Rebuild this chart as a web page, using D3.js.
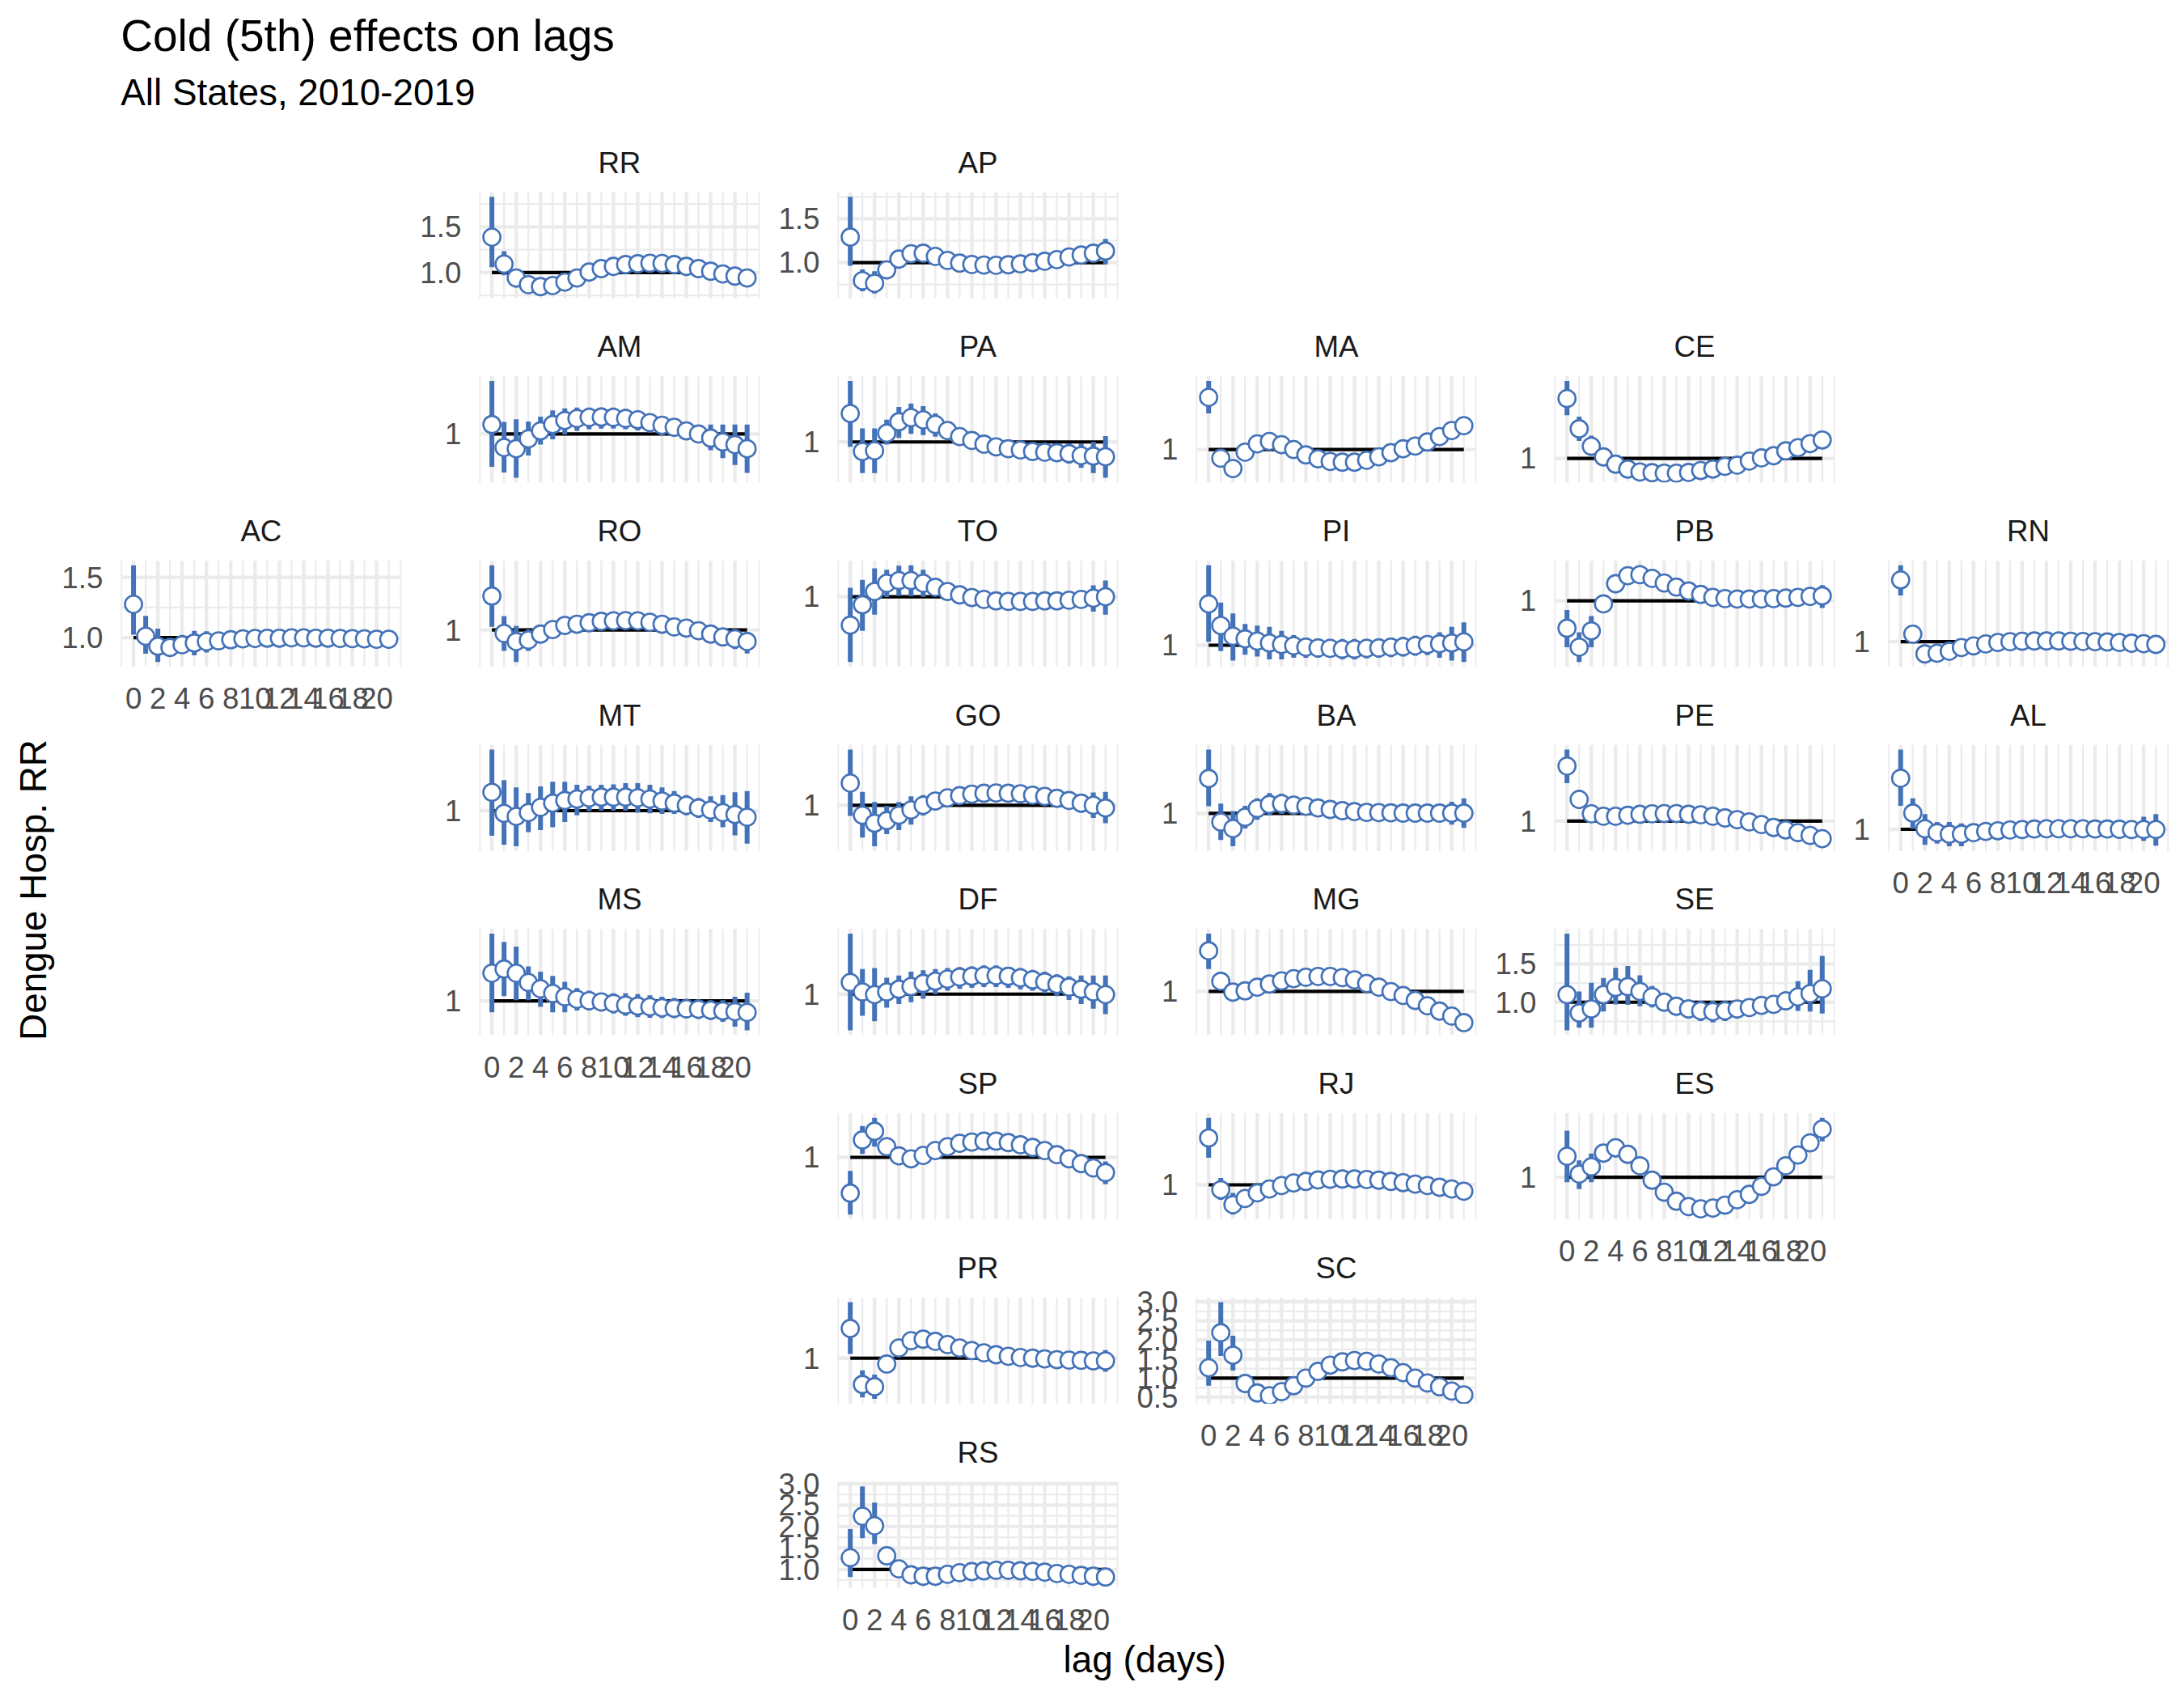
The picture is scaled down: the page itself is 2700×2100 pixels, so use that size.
<!DOCTYPE html>
<html><head><meta charset="utf-8">
<script src="https://cdn.jsdelivr.net/npm/d3@7"></script>
<style>body{margin:0;background:#fff} text{font-family:"Liberation Sans",Arial,Helvetica,sans-serif}</style>
</head><body>
<svg id="chart" width="2700" height="2100"></svg>
<script>
// ---------------- DATA ----------------
const titleText = "Cold (5th) effects on lags";
const subtitleText = "All States, 2010-2019";
const xTitle = "lag (days)";
const yTitle = "Dengue Hosp. RR";

const lags = [0,1,2,3,4,5,6,7,8,9,10,11,12,13,14,15,16,17,18,19,20,21];
const xTicks = [0,2,4,6,8,10,12,14,16,18,20];

// geofacet grid (Brazil states)
const states  = ["RR","AP","AM","PA","MA","CE","AC","RO","TO","PI","PB","RN","MT","GO","BA","PE","AL","MS","DF","MG","SE","SP","RJ","ES","PR","SC","RS"];
const gridRow = [0,0,1,1,1,1,2,2,2,2,2,2,3,3,3,3,3,4,4,4,4,5,5,5,6,6,7];
const gridCol = [1,2,1,2,3,4,0,1,2,3,4,5,1,2,3,4,5,1,2,3,4,2,3,4,2,3,2];

const RR_est = [1.388,1.094,0.941,0.868,0.847,0.859,0.897,0.941,1.006,1.044,1.068,1.088,1.097,1.103,1.100,1.088,1.068,1.044,1.015,0.985,0.962,0.941];
const RR_lo  = [1.059,0.971,0.838,0.779,0.771,0.815,0.860,0.908,0.975,1.015,1.040,1.060,1.068,1.073,1.070,1.058,1.037,1.012,0.982,0.950,0.925,0.900];
const RR_hi  = [1.829,1.235,1.044,0.958,0.925,0.905,0.935,0.975,1.038,1.074,1.097,1.117,1.127,1.133,1.130,1.118,1.099,1.077,1.050,1.022,1.002,0.985];

const AP_est = [1.291,0.794,0.764,0.917,1.040,1.101,1.107,1.071,1.025,0.994,0.979,0.972,0.969,0.975,0.985,1.000,1.015,1.034,1.064,1.086,1.107,1.132];
const AP_lo  = [0.963,0.672,0.647,0.825,0.995,1.065,1.072,1.038,0.993,0.962,0.946,0.938,0.935,0.940,0.950,0.963,0.975,0.990,1.015,1.045,1.060,0.980];
const AP_hi  = [1.750,0.923,0.902,1.009,1.085,1.138,1.142,1.104,1.057,1.026,1.012,1.006,1.003,1.010,1.020,1.037,1.055,1.078,1.112,1.127,1.155,1.270];

const AM_est = [1.039,0.944,0.939,0.980,1.013,1.039,1.056,1.064,1.069,1.070,1.069,1.064,1.059,1.047,1.036,1.028,1.013,1.000,0.983,0.967,0.956,0.939];
const AM_lo  = [0.864,0.841,0.819,0.911,0.956,0.978,0.998,1.013,1.020,1.022,1.022,1.020,1.015,1.006,0.995,0.990,0.975,0.962,0.933,0.900,0.872,0.839];
const AM_hi  = [1.219,1.050,1.061,1.052,1.072,1.098,1.106,1.109,1.109,1.109,1.109,1.104,1.098,1.085,1.072,1.064,1.050,1.037,1.039,1.039,1.039,1.039];

const PA_est = [1.117,0.961,0.964,1.036,1.083,1.100,1.091,1.072,1.047,1.022,1.006,0.991,0.980,0.972,0.967,0.961,0.958,0.956,0.952,0.944,0.942,0.939];
const PA_lo  = [0.980,0.872,0.872,0.989,1.017,1.033,1.028,1.022,1.009,0.989,0.976,0.961,0.947,0.942,0.936,0.928,0.924,0.920,0.911,0.894,0.872,0.853];
const PA_hi  = [1.250,1.056,1.056,1.091,1.144,1.158,1.147,1.117,1.083,1.056,1.036,1.022,1.011,1.002,0.998,0.994,0.991,0.991,0.994,0.994,1.000,1.024];

const MA_est = [1.214,0.964,0.922,0.989,1.023,1.033,1.020,1.000,0.978,0.962,0.951,0.948,0.948,0.956,0.970,0.987,1.003,1.014,1.031,1.053,1.078,1.098];
const MA_lo  = [1.148,0.937,0.884,0.968,1.003,1.013,1.000,0.980,0.958,0.942,0.931,0.928,0.928,0.936,0.950,0.967,0.983,0.993,1.009,1.030,1.055,1.074];
const MA_hi  = [1.281,0.992,0.948,1.010,1.043,1.053,1.040,1.020,0.998,0.982,0.971,0.968,0.968,0.976,0.990,1.007,1.023,1.035,1.053,1.076,1.101,1.122];

const CE_est = [1.247,1.122,1.050,1.006,0.976,0.956,0.944,0.941,0.939,0.939,0.942,0.950,0.956,0.967,0.972,0.989,1.002,1.011,1.031,1.044,1.061,1.076];
const CE_lo  = [1.178,1.072,1.011,0.982,0.954,0.936,0.924,0.921,0.920,0.921,0.922,0.930,0.936,0.947,0.952,0.969,0.982,0.991,1.011,1.024,1.039,1.054];
const CE_hi  = [1.319,1.172,1.094,1.030,0.998,0.976,0.964,0.961,0.958,0.958,0.962,0.970,0.976,0.987,0.992,1.009,1.022,1.031,1.051,1.064,1.083,1.098];

const AC_est = [1.277,1.011,0.928,0.918,0.940,0.955,0.966,0.973,0.982,0.989,0.993,0.995,0.995,0.998,0.998,0.995,0.995,0.993,0.991,0.989,0.986,0.986];
const AC_lo  = [1.023,0.865,0.797,0.886,0.865,0.853,0.876,0.951,0.960,0.968,0.972,0.974,0.974,0.978,0.978,0.974,0.974,0.972,0.970,0.968,0.964,0.964];
const AC_hi  = [1.601,1.180,1.074,0.950,1.022,1.056,1.052,0.995,1.004,1.010,1.014,1.016,1.016,1.018,1.018,1.016,1.016,1.014,1.012,1.010,1.008,1.008];

const RO_est = [1.141,0.986,0.952,0.958,0.983,1.002,1.019,1.024,1.030,1.036,1.038,1.039,1.038,1.032,1.024,1.013,1.008,0.997,0.983,0.971,0.963,0.952];
const RO_lo  = [1.013,0.913,0.867,0.913,0.947,0.969,0.986,0.991,0.997,1.002,1.006,1.006,1.006,0.999,0.991,0.980,0.974,0.961,0.947,0.932,0.921,0.902];
const RO_hi  = [1.269,1.058,1.017,1.002,1.021,1.036,1.052,1.058,1.061,1.066,1.069,1.069,1.068,1.063,1.057,1.047,1.041,1.032,1.021,1.010,1.004,0.991];

const TO_est = [0.883,0.967,1.022,1.056,1.067,1.067,1.056,1.039,1.022,1.008,0.997,0.989,0.983,0.981,0.981,0.981,0.983,0.983,0.986,0.989,0.994,1.000];
const TO_lo  = [0.731,0.859,0.926,0.999,1.004,1.002,1.000,1.004,0.992,0.978,0.967,0.961,0.954,0.952,0.952,0.952,0.954,0.954,0.956,0.956,0.939,0.926];
const TO_hi  = [1.037,1.070,1.117,1.111,1.128,1.130,1.111,1.072,1.050,1.037,1.026,1.017,1.011,1.009,1.009,1.009,1.011,1.013,1.017,1.022,1.047,1.067];

const PI_est = [1.170,1.081,1.037,1.026,1.017,1.009,1.003,0.998,0.992,0.989,0.987,0.984,0.984,0.987,0.989,0.992,0.994,0.998,1.003,1.006,1.009,1.014];
const PI_lo  = [1.014,0.976,0.937,0.961,0.953,0.942,0.942,0.948,0.948,0.948,0.948,0.942,0.942,0.946,0.948,0.951,0.953,0.957,0.959,0.948,0.937,0.931];
const PI_hi  = [1.329,1.176,1.131,1.087,1.081,1.076,1.059,1.042,1.031,1.028,1.026,1.026,1.026,1.026,1.028,1.031,1.034,1.039,1.037,1.053,1.076,1.094];

const PB_est = [0.887,0.809,0.876,0.987,1.070,1.103,1.107,1.092,1.073,1.056,1.040,1.026,1.014,1.009,1.007,1.007,1.007,1.009,1.011,1.014,1.018,1.020];
const PB_lo  = [0.809,0.748,0.809,0.956,1.037,1.067,1.070,1.056,1.040,1.024,1.009,0.996,0.984,0.979,0.977,0.977,0.977,0.979,0.980,0.981,0.980,0.970];
const PB_hi  = [0.962,0.870,0.937,1.020,1.103,1.142,1.146,1.129,1.107,1.087,1.070,1.056,1.044,1.039,1.037,1.037,1.037,1.039,1.042,1.048,1.056,1.064];

const RN_est = [1.253,1.031,0.950,0.953,0.961,0.976,0.983,0.991,0.997,1.000,1.002,1.003,1.003,1.003,1.002,1.001,1.000,0.999,0.997,0.994,0.992,0.989];
const RN_lo  = [1.189,1.000,0.917,0.933,0.941,0.956,0.963,0.971,0.977,0.980,0.982,0.983,0.983,0.983,0.982,0.981,0.980,0.979,0.977,0.974,0.972,0.969];
const RN_hi  = [1.313,1.061,0.978,0.973,0.981,0.996,1.003,1.011,1.017,1.020,1.022,1.023,1.023,1.023,1.022,1.021,1.020,1.019,1.017,1.014,1.012,1.009];

const MT_est = [1.076,0.989,0.976,0.992,1.014,1.031,1.042,1.048,1.053,1.056,1.056,1.056,1.053,1.048,1.040,1.031,1.022,1.011,1.003,0.992,0.984,0.973];
const MT_lo  = [0.896,0.859,0.853,0.911,0.920,0.931,0.953,0.981,0.998,1.000,1.000,1.000,0.992,0.989,0.987,0.987,0.981,0.970,0.953,0.931,0.898,0.864];
const MT_hi  = [1.253,1.126,1.096,1.073,1.100,1.120,1.120,1.107,1.103,1.107,1.109,1.114,1.114,1.107,1.096,1.081,1.064,1.053,1.059,1.064,1.076,1.081];

const GO_est = [1.092,0.959,0.926,0.937,0.959,0.981,1.000,1.018,1.031,1.040,1.046,1.050,1.051,1.050,1.048,1.042,1.037,1.029,1.020,1.009,1.000,0.989];
const GO_lo  = [0.956,0.867,0.831,0.881,0.898,0.920,0.958,0.984,1.000,1.009,1.016,1.020,1.022,1.020,1.018,1.012,1.007,0.998,0.989,0.970,0.948,0.926];
const GO_hi  = [1.231,1.056,1.014,0.998,1.014,1.037,1.042,1.053,1.062,1.070,1.076,1.079,1.080,1.079,1.077,1.072,1.067,1.059,1.051,1.048,1.053,1.056];

const BA_est = [1.144,0.964,0.937,0.984,1.020,1.037,1.040,1.034,1.029,1.022,1.016,1.011,1.007,1.004,1.003,1.002,1.001,1.001,1.001,1.001,1.001,1.001];
const BA_lo  = [1.029,0.890,0.864,0.937,0.973,0.992,0.998,0.998,1.004,0.997,0.991,0.986,0.982,0.979,0.978,0.977,0.976,0.975,0.974,0.971,0.953,0.940];
const BA_hi  = [1.264,1.040,1.009,1.031,1.062,1.084,1.081,1.070,1.054,1.047,1.041,1.036,1.032,1.029,1.028,1.027,1.026,1.026,1.027,1.030,1.048,1.062];

const PE_est = [1.226,1.089,1.030,1.020,1.020,1.024,1.028,1.030,1.031,1.031,1.028,1.026,1.020,1.013,1.006,0.997,0.986,0.974,0.964,0.953,0.941,0.928];
const PE_lo  = [1.156,1.050,1.010,1.000,1.000,1.004,1.008,1.010,1.011,1.011,1.008,1.006,1.000,0.993,0.986,0.977,0.966,0.954,0.944,0.931,0.917,0.897];
const PE_hi  = [1.294,1.128,1.050,1.040,1.040,1.044,1.048,1.050,1.051,1.051,1.048,1.046,1.040,1.033,1.026,1.017,1.006,0.994,0.984,0.975,0.965,0.958];

const AL_est = [1.211,1.067,1.002,0.986,0.980,0.980,0.986,0.991,0.994,0.997,0.999,1.001,1.002,1.002,1.002,1.002,1.001,1.001,1.000,0.999,0.999,0.999];
const AL_lo  = [1.097,1.002,0.936,0.941,0.930,0.930,0.950,0.969,0.974,0.977,0.979,0.981,0.982,0.982,0.982,0.982,0.981,0.981,0.978,0.968,0.952,0.932];
const AL_hi  = [1.330,1.128,1.063,1.030,1.030,1.024,1.019,1.013,1.014,1.017,1.019,1.021,1.022,1.022,1.022,1.022,1.021,1.021,1.022,1.030,1.052,1.063];

const MS_est = [1.114,1.131,1.114,1.076,1.050,1.031,1.017,1.007,1.001,0.996,0.990,0.983,0.979,0.976,0.972,0.970,0.968,0.966,0.962,0.959,0.956,0.953];
const MS_lo  = [0.953,1.020,1.003,1.003,0.976,0.953,0.953,0.961,0.961,0.957,0.948,0.939,0.933,0.931,0.930,0.929,0.928,0.926,0.922,0.914,0.894,0.879];
const MS_hi  = [1.276,1.242,1.223,1.142,1.120,1.103,1.079,1.053,1.042,1.034,1.031,1.031,1.028,1.023,1.017,1.012,1.009,1.006,1.003,1.003,1.017,1.034];

const DF_est = [1.048,1.009,0.998,1.009,1.020,1.031,1.044,1.053,1.062,1.070,1.073,1.076,1.076,1.073,1.067,1.059,1.050,1.040,1.029,1.020,1.009,0.998];
const DF_lo  = [0.851,0.911,0.889,0.944,0.959,0.967,0.981,1.000,1.014,1.022,1.026,1.029,1.029,1.026,1.020,1.014,1.003,0.992,0.976,0.959,0.940,0.918];
const DF_hi  = [1.248,1.103,1.107,1.067,1.076,1.092,1.098,1.103,1.107,1.111,1.114,1.118,1.118,1.111,1.107,1.100,1.092,1.081,1.073,1.076,1.076,1.076];

const MG_est = [1.166,1.041,0.997,1.002,1.017,1.030,1.043,1.052,1.058,1.061,1.061,1.056,1.047,1.032,1.017,0.999,0.983,0.963,0.941,0.919,0.899,0.872];
const MG_lo  = [1.091,1.008,0.977,0.982,0.997,1.010,1.023,1.032,1.038,1.041,1.041,1.036,1.027,1.012,0.997,0.979,0.963,0.943,0.921,0.899,0.875,0.840];
const MG_hi  = [1.236,1.080,1.017,1.022,1.037,1.050,1.063,1.072,1.078,1.081,1.081,1.076,1.067,1.052,1.037,1.019,1.003,0.983,0.961,0.939,0.921,0.900];

const SE_est = [1.099,0.859,0.912,1.099,1.194,1.204,1.141,1.070,1.000,0.947,0.912,0.887,0.877,0.887,0.912,0.930,0.958,0.972,1.018,1.070,1.113,1.176];
const SE_lo  = [0.630,0.665,0.665,0.877,0.972,0.965,0.947,0.930,0.894,0.842,0.789,0.754,0.736,0.754,0.789,0.806,0.842,0.866,0.894,0.887,0.877,0.852];
const SE_hi  = [1.898,1.141,1.254,1.317,1.451,1.475,1.352,1.211,1.106,1.053,1.035,1.018,1.018,1.018,1.028,1.042,1.063,1.088,1.141,1.275,1.423,1.606];

const SP_est = [0.852,1.072,1.108,1.044,1.006,0.994,1.008,1.028,1.044,1.058,1.063,1.067,1.067,1.061,1.052,1.041,1.028,1.011,0.994,0.974,0.956,0.937];
const SP_lo  = [0.763,1.014,1.044,1.024,0.986,0.974,0.988,1.008,1.024,1.038,1.043,1.047,1.047,1.041,1.032,1.021,1.008,0.991,0.974,0.954,0.932,0.889];
const SP_hi  = [0.944,1.130,1.163,1.064,1.026,1.014,1.028,1.048,1.064,1.078,1.083,1.087,1.087,1.081,1.072,1.061,1.048,1.031,1.014,0.994,0.980,0.983];

const RJ_est = [1.192,0.980,0.919,0.944,0.967,0.983,0.997,1.008,1.014,1.020,1.023,1.024,1.024,1.022,1.019,1.014,1.009,1.003,0.997,0.990,0.983,0.974];
const RJ_lo  = [1.111,0.939,0.878,0.924,0.947,0.963,0.977,0.988,0.994,1.000,1.003,1.004,1.004,1.002,0.999,0.994,0.989,0.983,0.977,0.970,0.963,0.954];
const RJ_hi  = [1.274,1.028,0.967,0.964,0.987,1.003,1.017,1.028,1.034,1.040,1.043,1.044,1.044,1.042,1.039,1.034,1.029,1.023,1.017,1.010,1.003,0.994];

const ES_est = [1.086,1.013,1.043,1.099,1.121,1.094,1.047,0.988,0.939,0.902,0.880,0.871,0.874,0.886,0.908,0.930,0.963,1.002,1.047,1.091,1.141,1.197];
const ES_lo  = [0.980,0.952,0.980,1.066,1.081,1.063,1.022,0.963,0.914,0.877,0.855,0.847,0.849,0.861,0.883,0.905,0.938,0.977,1.022,1.066,1.116,1.147];
const ES_hi  = [1.191,1.069,1.097,1.132,1.154,1.124,1.072,1.013,0.964,0.927,0.905,0.896,0.899,0.911,0.933,0.955,0.988,1.027,1.072,1.116,1.166,1.243];

const PR_est = [1.122,0.892,0.883,0.976,1.042,1.072,1.078,1.069,1.056,1.042,1.031,1.022,1.014,1.008,1.003,1.000,0.997,0.994,0.992,0.991,0.989,0.989];
const PR_lo  = [1.017,0.839,0.833,0.956,1.022,1.052,1.058,1.049,1.036,1.022,1.011,1.002,0.994,0.988,0.983,0.980,0.977,0.974,0.972,0.971,0.969,0.944];
const PR_hi  = [1.230,0.950,0.933,0.996,1.062,1.092,1.098,1.089,1.076,1.062,1.051,1.042,1.034,1.028,1.023,1.020,1.017,1.014,1.012,1.011,1.009,1.033];

const SC_est = [1.270,2.190,1.600,0.858,0.610,0.539,0.645,0.800,1.000,1.177,1.340,1.426,1.461,1.440,1.369,1.270,1.142,1.000,0.872,0.773,0.660,0.560];
const SC_lo  = [0.800,1.580,1.200,0.790,0.540,0.455,0.575,0.730,0.930,1.100,1.270,1.350,1.390,1.365,1.300,1.200,1.075,0.930,0.805,0.705,0.590,0.490];
const SC_hi  = [1.980,2.990,2.110,0.930,0.680,0.610,0.715,0.870,1.070,1.250,1.410,1.500,1.535,1.515,1.440,1.340,1.210,1.070,0.940,0.840,0.730,0.630];

const RS_est = [1.274,2.242,2.020,1.318,1.013,0.873,0.840,0.840,0.885,0.924,0.949,0.968,0.981,0.981,0.968,0.955,0.936,0.904,0.885,0.860,0.840,0.822];
const RS_lo  = [0.820,1.730,1.590,1.220,0.950,0.800,0.680,0.680,0.820,0.860,0.890,0.910,0.920,0.920,0.910,0.890,0.870,0.840,0.820,0.800,0.780,0.760];
const RS_hi  = [1.943,2.940,2.560,1.420,1.080,0.940,0.900,0.900,0.950,0.990,1.010,1.030,1.040,1.040,1.030,1.020,1.000,0.970,0.950,0.920,0.900,0.890];

const seriesByState = {
  RR:[RR_est,RR_lo,RR_hi], AP:[AP_est,AP_lo,AP_hi], AM:[AM_est,AM_lo,AM_hi], PA:[PA_est,PA_lo,PA_hi],
  MA:[MA_est,MA_lo,MA_hi], CE:[CE_est,CE_lo,CE_hi], AC:[AC_est,AC_lo,AC_hi], RO:[RO_est,RO_lo,RO_hi],
  TO:[TO_est,TO_lo,TO_hi], PI:[PI_est,PI_lo,PI_hi], PB:[PB_est,PB_lo,PB_hi], RN:[RN_est,RN_lo,RN_hi],
  MT:[MT_est,MT_lo,MT_hi], GO:[GO_est,GO_lo,GO_hi], BA:[BA_est,BA_lo,BA_hi], PE:[PE_est,PE_lo,PE_hi],
  AL:[AL_est,AL_lo,AL_hi], MS:[MS_est,MS_lo,MS_hi], DF:[DF_est,DF_lo,DF_hi], MG:[MG_est,MG_lo,MG_hi],
  SE:[SE_est,SE_lo,SE_hi], SP:[SP_est,SP_lo,SP_hi], RJ:[RJ_est,RJ_lo,RJ_hi], ES:[ES_est,ES_lo,ES_hi],
  PR:[PR_est,PR_lo,PR_hi], SC:[SC_est,SC_lo,SC_hi], RS:[RS_est,RS_lo,RS_hi]
};

// ---------------- STYLE / LAYOUT ----------------
const BLUE = "#4472B8";
const GRID = "#EBEBEB";
const FS_AXIS = 36.67, FS_STRIP = 36.67, FS_TITLE = 55, FS_SUB = 45.83, FS_LAB = 45.83;
const H = 131.5, rowTop0 = 237.3, rowStep = 227.7;
const plotLeft = 149.3, plotRight = 2681;
const labelGap = 22, panelGap = 23;

const svg = d3.select("#chart");
svg.append("rect").attr("width", 2700).attr("height", 2100).attr("fill", "#fff");

// y breaks like ggplot with 0.5 step
function yBreaks(dom) {
  const b = [];
  for (let k = Math.ceil(dom[0] / 0.5 - 1e-9); k * 0.5 <= dom[1] + 1e-9; k++) b.push(k * 0.5);
  return b;
}
function yMinor(dom, b) {
  if (b.length < 2) return [];
  const m = [];
  for (let k = Math.ceil(dom[0] / 0.25); k * 0.25 <= dom[1]; k++) if (k % 2 !== 0) m.push(k * 0.25);
  return m;
}

const panels = states.map((s, i) => {
  const [est, lo, hi] = seriesByState[s];
  const all = est.concat(lo, hi, [1]);
  const mn = d3.min(all), mx = d3.max(all), pad = (mx - mn) * 0.05;
  const dom = [mn - pad, mx + pad];
  const breaks = yBreaks(dom);
  const dec = breaks.every(v => Math.abs(v - Math.round(v)) < 1e-9) ? 0 : 1;
  const labels = breaks.map(v => v.toFixed(dec));
  return {state: s, row: gridRow[i], col: gridCol[i], est, lo, hi, dom, breaks, labels,
          minor: yMinor(dom, breaks)};
});

// measure y-label widths per column
const meas = svg.append("text").attr("font-size", FS_AXIS).attr("visibility", "hidden");
function tw(t) { meas.text(t); return meas.node().getComputedTextLength(); }
const colLabelW = [0,0,0,0,0,0];
panels.forEach(p => p.labels.forEach(l => { colLabelW[p.col] = Math.max(colLabelW[p.col], tw(l)); }));
meas.remove();

const sumLW = d3.sum(colLabelW.slice(1));
const W = (plotRight - plotLeft - 5 * (panelGap + labelGap) - sumLW) / 6;
const colLeft = [plotLeft];
for (let c = 1; c < 6; c++) colLeft[c] = colLeft[c - 1] + W + panelGap + labelGap + colLabelW[c];

const occupied = new Set(panels.map(p => p.row + "," + p.col));

// x grid breaks
const xDomain = [-1.05, 22.05];
const xMinorAll = [];
{
  const ext = [xTicks[0] - 2].concat(xTicks, [xTicks[xTicks.length - 1] + 2]);
  for (let i = 0; i < ext.length - 1; i++) xMinorAll.push((ext[i] + ext[i + 1]) / 2);
}
const xMinor = xMinorAll.concat([xTicks[xTicks.length - 1] + 2])
  .filter(v => v >= xDomain[0] && v <= xDomain[1] && !xTicks.includes(v));

const defs = svg.append("defs");

panels.forEach((p, idx) => {
  const left = colLeft[p.col], top = rowTop0 + p.row * rowStep, bottom = top + H;
  const x = d3.scaleLinear().domain(xDomain).range([left, left + W]);
  const y = d3.scaleLinear().domain(p.dom).range([bottom, top]);

  const g = svg.append("g").attr("class", "panel-" + p.state);

  // strip
  g.append("text").attr("x", left + W / 2).attr("y", top - 23.7)
    .attr("text-anchor", "middle").attr("font-size", FS_STRIP).attr("fill", "#1A1A1A").text(p.state);

  // y axis labels
  p.breaks.forEach((b, i) => {
    g.append("text").attr("x", left - labelGap).attr("y", y(b)).attr("dy", "0.35em")
      .attr("text-anchor", "end").attr("font-size", FS_AXIS).attr("fill", "#4D4D4D").text(p.labels[i]);
  });

  // x axis labels if nothing below
  if (!occupied.has((p.row + 1) + "," + p.col)) {
    xTicks.forEach(t => {
      g.append("text").attr("x", x(t)).attr("y", bottom + 52)
        .attr("text-anchor", "middle").attr("font-size", FS_AXIS).attr("fill", "#4D4D4D").text(t);
    });
  }

  const clipId = "clip" + idx;
  defs.append("clipPath").attr("id", clipId).append("rect")
    .attr("x", left).attr("y", top).attr("width", W).attr("height", H);
  const pg = g.append("g").attr("clip-path", "url(#" + clipId + ")");

  // minor grid
  xMinor.forEach(v => pg.append("line").attr("x1", x(v)).attr("x2", x(v)).attr("y1", top).attr("y2", bottom)
    .attr("stroke", GRID).attr("stroke-width", 2.2));
  p.minor.forEach(v => pg.append("line").attr("x1", left).attr("x2", left + W).attr("y1", y(v)).attr("y2", y(v))
    .attr("stroke", GRID).attr("stroke-width", 2.2));
  // major grid
  xTicks.forEach(v => pg.append("line").attr("x1", x(v)).attr("x2", x(v)).attr("y1", top).attr("y2", bottom)
    .attr("stroke", GRID).attr("stroke-width", 4.3));
  p.breaks.forEach(v => pg.append("line").attr("x1", left).attr("x2", left + W).attr("y1", y(v)).attr("y2", y(v))
    .attr("stroke", GRID).attr("stroke-width", 4.3));

  // reference line at RR = 1 across the lags
  pg.append("path")
    .attr("d", d3.line().x(d => x(d)).y(() => y(1))(lags))
    .attr("stroke", "#000").attr("stroke-width", 4.2).attr("fill", "none");

  // error bars
  pg.selectAll("line.err").data(lags).enter().append("line").attr("class", "err")
    .attr("x1", d => x(d)).attr("x2", d => x(d))
    .attr("y1", (d, i) => y(p.lo[i])).attr("y2", (d, i) => y(p.hi[i]))
    .attr("stroke", BLUE).attr("stroke-width", 6);

  // points
  pg.selectAll("circle").data(lags).enter().append("circle")
    .attr("cx", d => x(d)).attr("cy", (d, i) => y(p.est[i])).attr("r", 10.6)
    .attr("fill", "#fff").attr("stroke", BLUE).attr("stroke-width", 2.6);
});

// titles
svg.append("text").attr("x", plotLeft).attr("y", 63).attr("font-size", FS_TITLE).attr("fill", "#000").text(titleText);
svg.append("text").attr("x", plotLeft).attr("y", 130).attr("font-size", FS_SUB).attr("fill", "#000").text(subtitleText);
svg.append("text").attr("x", (plotLeft + plotRight) / 2).attr("y", 2067).attr("text-anchor", "middle")
  .attr("font-size", FS_LAB).attr("fill", "#000").text(xTitle);
const yMid = rowTop0 + (rowTop0 + 7 * rowStep + H - rowTop0) / 2;
svg.append("text").attr("transform", `translate(57,${yMid}) rotate(-90)`).attr("text-anchor", "middle")
  .attr("font-size", FS_LAB).attr("fill", "#000").text(yTitle);
</script>
</body></html>
